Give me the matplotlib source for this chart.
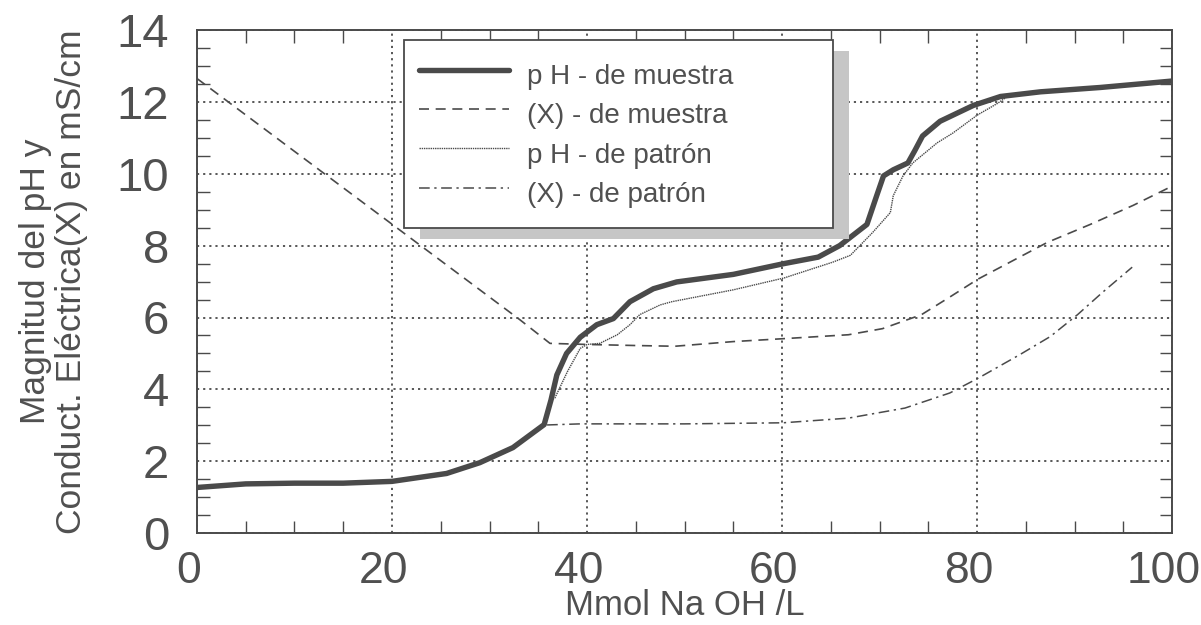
import matplotlib
matplotlib.use('Agg')
import matplotlib.pyplot as plt
from matplotlib.ticker import MultipleLocator
from matplotlib.transforms import ScaledTranslation

# curvas de titulacion con NaOH (mmol/L)
ph_muestra_x = [0, 5, 10, 15, 20, 25.6, 29, 32.4, 35.6, 36.3, 36.9, 37.9, 39.3, 41, 42.7,
                44.4, 46.8, 49.2, 55, 60.2, 63.7, 65.9, 68.7, 69.7, 70.4, 71.4, 72.9,
                73.6, 74.4, 76.2, 79.6, 82.4, 86.5, 92.6, 100]
ph_muestra_y = [1.27, 1.37, 1.39, 1.39, 1.44, 1.66, 1.96, 2.38, 3.02, 3.7, 4.4, 5.0, 5.45,
                5.8, 5.97, 6.44, 6.8, 6.99, 7.2, 7.5, 7.68, 8.0, 8.59, 9.39, 9.94, 10.11,
                10.3, 10.64, 11.05, 11.46, 11.9, 12.15, 12.28, 12.4, 12.58]

ph_patron_x = [36.3, 36.7, 38.0, 39.3, 40.0, 41.3, 43.1, 44.4, 45.4, 47.5, 48.7, 55, 60.2,
               65.2, 67.0, 69.3, 71.1, 71.4, 72.4, 73.4, 75.9, 77.5, 80.0, 82.1, 83.1, 86.5,
               92.6, 100]
ph_patron_y = [3.7, 3.76, 4.5, 5.14, 5.25, 5.28, 5.52, 5.8, 6.08, 6.35, 6.44, 6.77, 7.1,
               7.54, 7.73, 8.37, 8.92, 9.39, 9.94, 10.3, 10.86, 11.13, 11.63, 11.96, 12.15,
               12.26, 12.38, 12.55]

x_muestra_x = [0, 33.1, 36.2, 40, 45, 49, 55, 60.1, 66.8, 70.3, 74.3, 77.2, 80.1, 87.2,
               91.6, 96.0, 99.8]
x_muestra_y = [12.65, 5.94, 5.28, 5.25, 5.22, 5.2, 5.33, 5.41, 5.52, 5.69, 6.08, 6.57,
               7.07, 8.09, 8.59, 9.12, 9.63]

x_patron_x = [35.9, 39.3, 50, 60.1, 66.8, 72.6, 77.2, 80.1, 84.4, 87.5, 90.3, 92.9, 95.9]
x_patron_y = [3.01, 3.04, 3.04, 3.07, 3.2, 3.48, 3.9, 4.31, 4.97, 5.47, 6.08, 6.71, 7.4]

etiquetas = ['p H - de muestra', '(X) - de muestra', 'p H - de patrón', '(X) - de patrón']

gris = '#4a4a4a'
texto = '#505050'
plt.rcParams['font.family'] = ['Liberation Sans', 'DejaVu Sans']

fig = plt.figure(figsize=(12.01, 6.25), dpi=100)
ax = fig.add_axes([0.164, 0.147, 0.812, 0.805])

ax.plot(ph_muestra_x, ph_muestra_y, color=gris, lw=3.9, solid_joinstyle='round',
        solid_capstyle='round', label=etiquetas[0], zorder=4)
ax.plot(x_muestra_x, x_muestra_y, color=gris, lw=1.2, linestyle=(0, (6, 4)),
        label=etiquetas[1], zorder=3)
ax.plot(ph_patron_x, ph_patron_y, color=gris, lw=1.0, linestyle=(0, (1, 0.6)),
        label=etiquetas[2], zorder=3)
ax.plot(x_patron_x, x_patron_y, color=gris, lw=1.1, linestyle=(0, (7, 3, 1.5, 3)),
        label=etiquetas[3], zorder=3)

ax.set_xlim(0, 100)
ax.set_ylim(0, 14)
ax.xaxis.set_major_locator(MultipleLocator(20))
ax.xaxis.set_minor_locator(MultipleLocator(5))
ax.yaxis.set_major_locator(MultipleLocator(2))
ax.yaxis.set_minor_locator(MultipleLocator(0.5))
ax.grid(True, which='major', color=gris, lw=1.3, linestyle=(0, (1.2, 2.2)))

ax.tick_params(which='both', direction='in', top=True, right=True, colors=gris)
ax.tick_params(which='major', length=0)
ax.tick_params(which='minor', length=9, width=1.0)
ax.tick_params(axis='x', which='major', pad=13, labelsize=32, labelcolor=texto)
ax.tick_params(axis='y', which='major', pad=20, labelsize=34, labelcolor=texto)

# numeros del eje x un poco corridos a la izquierda
desplaza = ScaledTranslation(-6 / 72, 0, fig.dpi_scale_trans)
for lab in ax.get_xticklabels():
    lab.set_transform(lab.get_transform() + desplaza)

for s in ax.spines.values():
    s.set_color(gris)
    s.set_linewidth(1.4)

ax.set_xlabel('Mmol Na OH /L', fontsize=25, color=texto, va='top')
ax.xaxis.set_label_coords(0.5, -0.112)
ax.set_ylabel('Magnitud del pH y\nConduct. Eléctrica(X) en mS/cm', fontsize=25.5,
              color=texto, linespacing=1.12)
ax.yaxis.set_label_coords(-0.112, 0.5)

leg = ax.legend(loc='upper left', bbox_to_anchor=(0.212, 0.62, 0.44, 0.36),
                mode='expand', borderaxespad=0, fontsize=20, frameon=True,
                fancybox=False, edgecolor=gris, framealpha=1, handlelength=3.25,
                handletextpad=0.65, handleheight=1.8, labelspacing=0.0,
                borderpad=0.55,
                shadow={'ox': 12, 'oy': -8, 'facecolor': '#c6c6c6',
                        'edgecolor': 'none', 'alpha': 1})
leg.get_frame().set_linewidth(1.3)
leg.set_zorder(6)
for t in leg.get_texts():
    t.set_color(texto)

fig.savefig('out.png', dpi=100)
